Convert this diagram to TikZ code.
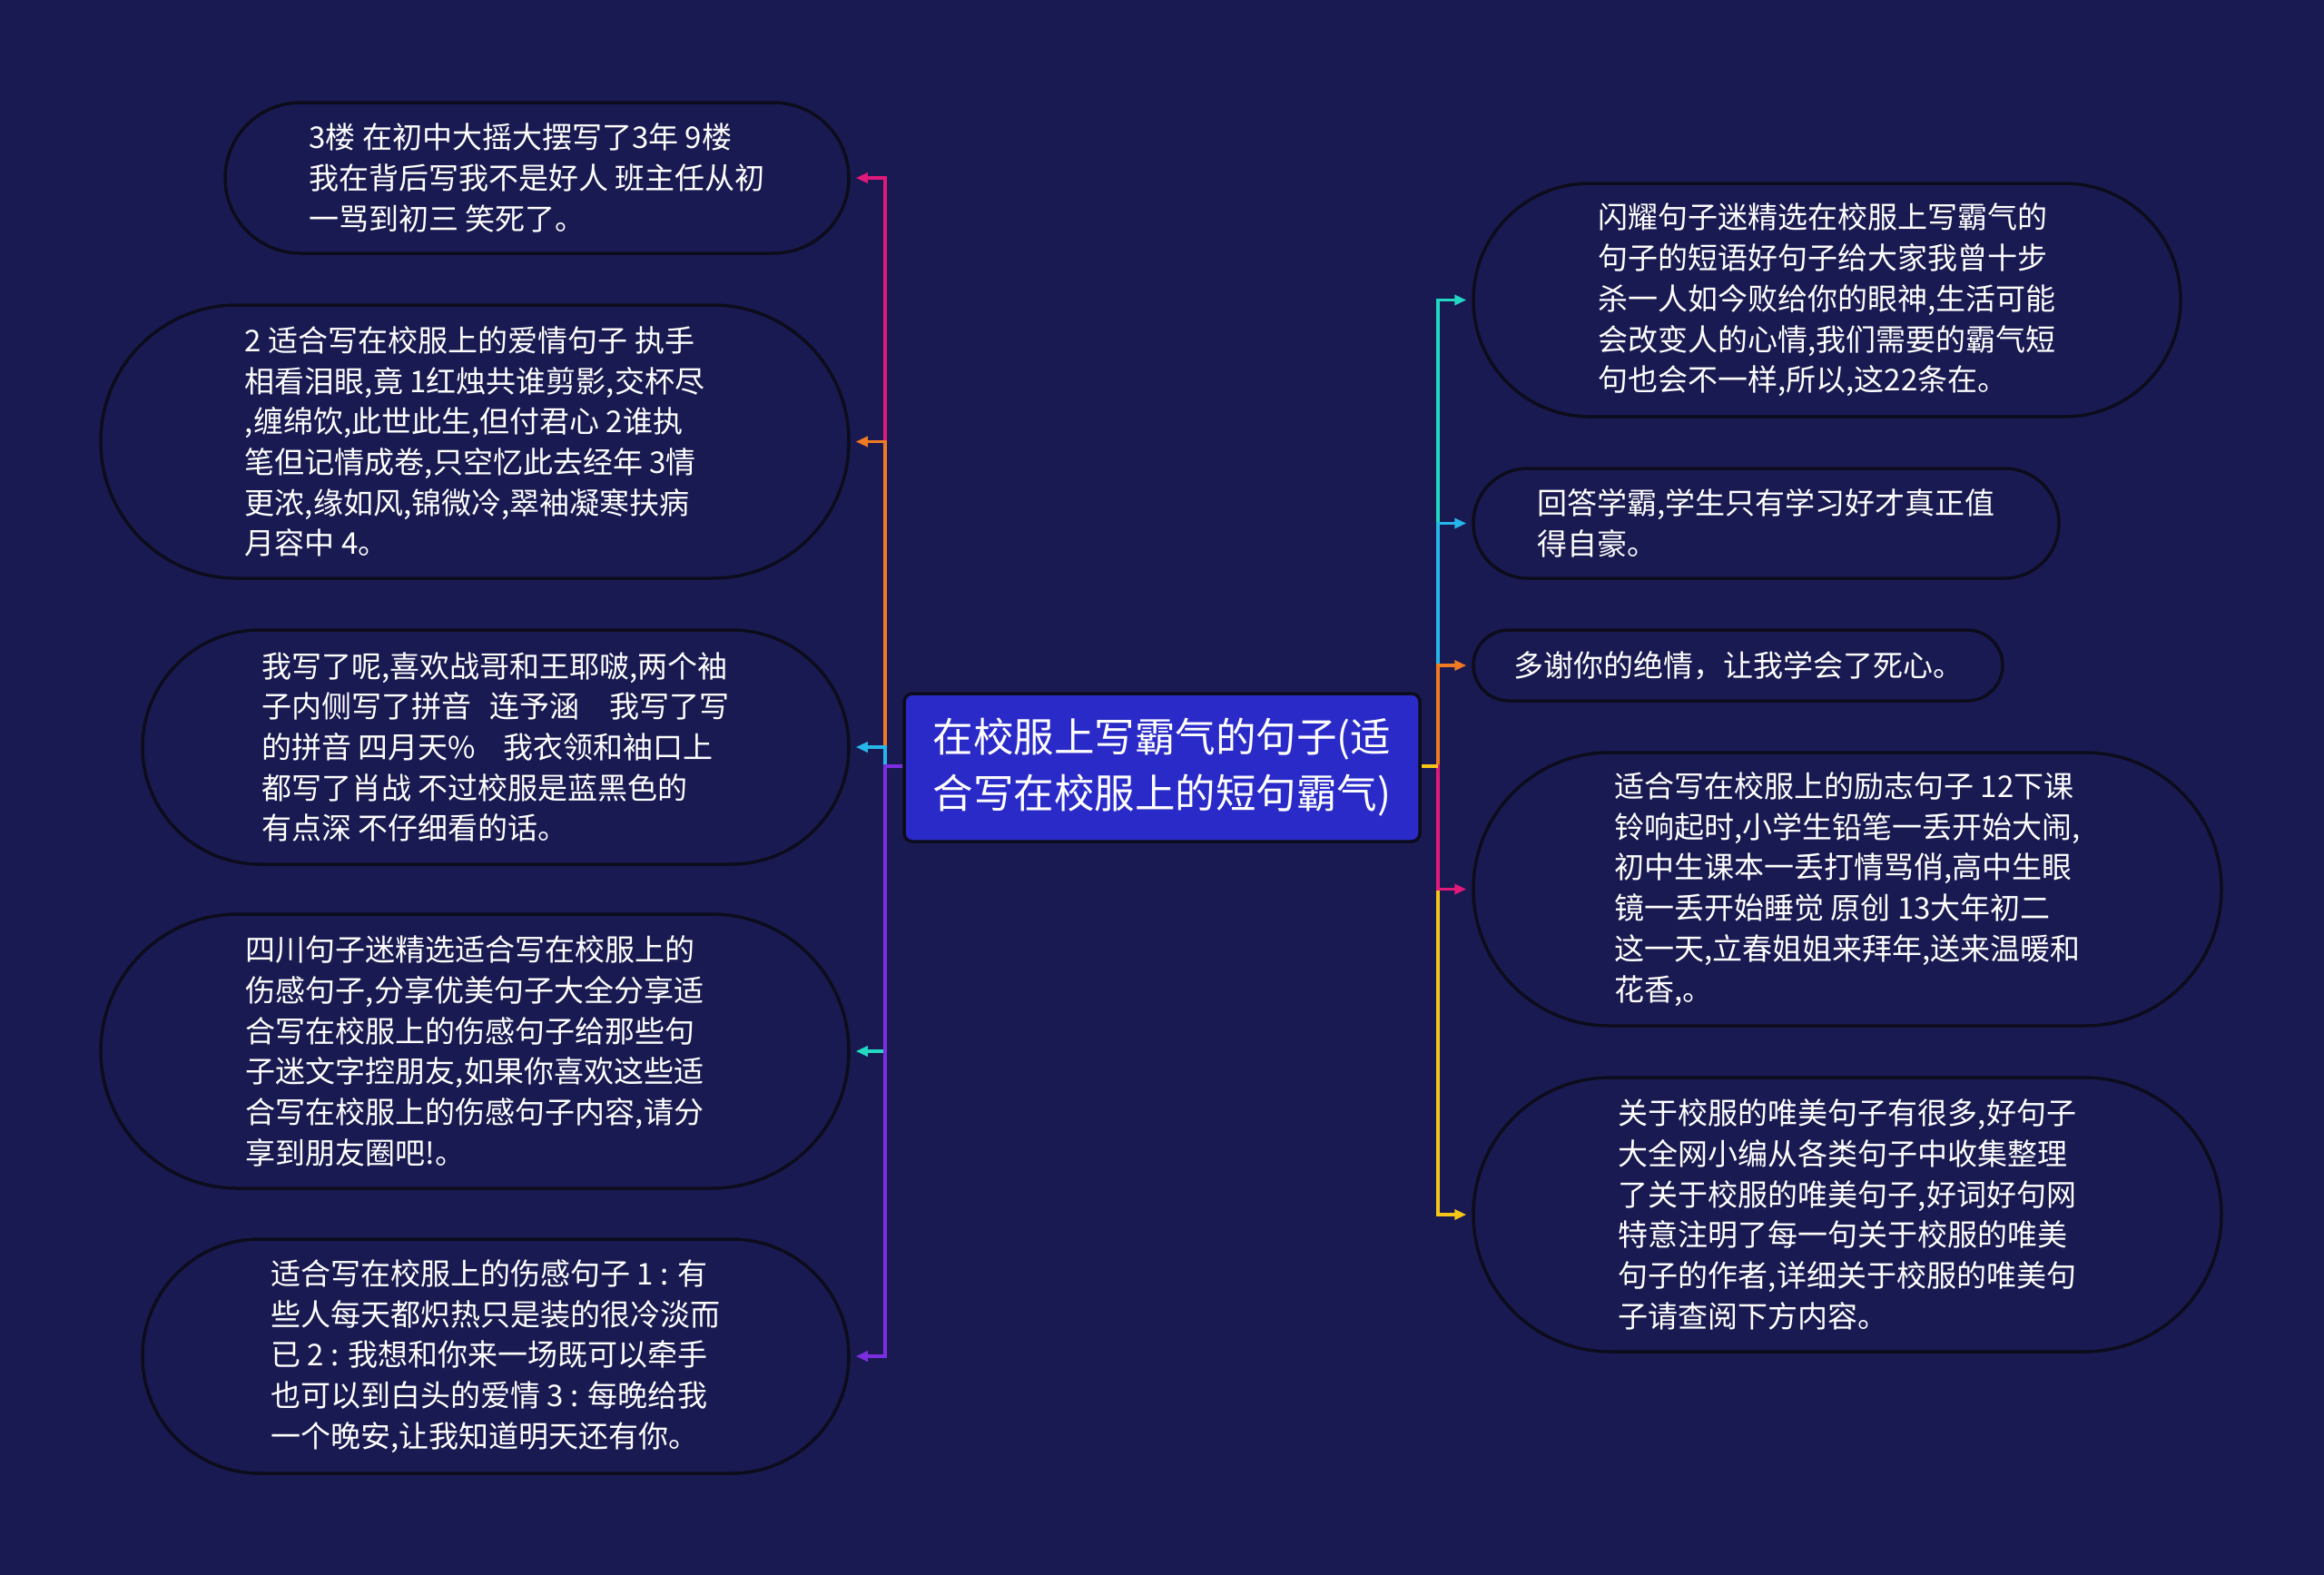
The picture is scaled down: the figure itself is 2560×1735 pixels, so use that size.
\documentclass[tikz,border=0pt]{standalone}
\usepackage{fontspec}
\setmainfont{Noto Sans CJK SC}
\usetikzlibrary{arrows.meta}
\definecolor{bg}{HTML}{1A1A52}
\definecolor{rootfill}{HTML}{2A2AC8}
\definecolor{edge}{HTML}{0C0C1C}
\definecolor{cpink}{HTML}{E0197A}
\definecolor{corange}{HTML}{F07A22}
\definecolor{ccyan}{HTML}{27B6EA}
\definecolor{cteal}{HTML}{22D8C2}
\definecolor{cpurple}{HTML}{7B2EE0}
\definecolor{cyellow}{HTML}{F5C518}
\tikzset{
  leaf/.style={draw=edge, line width=3.5pt, fill=bg, text=white, align=left,
    inner sep=0pt, font=\fontsize{33}{44.7}\selectfont},
  rootbox/.style={draw=edge, line width=3.5pt, fill=rootfill, text=white, align=left,
    rounded corners=9pt, inner sep=0pt, font=\fontsize{44.5}{62}\selectfont},
  conn/.style={line width=3.5pt, -{Triangle[length=13pt,width=11pt]}, shorten >=6pt}
}
\begin{document}
\begin{tikzpicture}[x=1pt,y=-1pt]
\useasboundingbox[fill=bg] (0,0) rectangle (2560,1735);

\node[rootbox, minimum width=568pt, minimum height=163pt] (root) at (1280,845.5)
  {在校服上写霸气的句子(适\\合写在校服上的短句霸气)};

% left
\node[leaf, minimum width=687pt, minimum height=166pt, rounded corners=83pt] (L1) at (591.5,196)
  {3楼 在初中大摇大摆写了3年 9楼\\我在背后写我不是好人 班主任从初\\一骂到初三 笑死了。};
\node[leaf, minimum width=824pt, minimum height=301pt, rounded corners=150pt] (L2) at (523,486.5)
  {2 适合写在校服上的爱情句子 执手\\相看泪眼,竟 1红烛共谁剪影,交杯尽\\,缠绵饮,此世此生,但付君心 2谁执\\笔但记情成卷,只空忆此去经年 3情\\更浓,缘如风,锦微冷,翠袖凝寒扶病\\月容中 4。};
\node[leaf, minimum width=778pt, minimum height=258pt, rounded corners=129pt] (L3) at (546,823)
  {我写了呢,喜欢战哥和王耶啵,两个袖\\子内侧写了拼音\hspace{21pt}连予涵\hspace{33pt}我写了写\\的拼音 四月天\%\hspace{31pt}我衣领和袖口上\\都写了肖战 不过校服是蓝黑色的\\有点深 不仔细看的话。};
\node[leaf, minimum width=824pt, minimum height=302pt, rounded corners=151pt] (L4) at (523,1158)
  {四川句子迷精选适合写在校服上的\\伤感句子,分享优美句子大全分享适\\合写在校服上的伤感句子给那些句\\子迷文字控朋友,如果你喜欢这些适\\合写在校服上的伤感句子内容,请分\\享到朋友圈吧!。};
\node[leaf, minimum width=778pt, minimum height=258pt, rounded corners=129pt] (L5) at (546,1494)
  {适合写在校服上的伤感句子 1 : 有\\些人每天都炽热只是装的很冷淡而\\已 2 : 我想和你来一场既可以牵手\\也可以到白头的爱情 3 : 每晚给我\\一个晚安,让我知道明天还有你。};

% right
\node[leaf, minimum width=779pt, minimum height=257pt, rounded corners=128pt] (R1) at (2012.5,330.5)
  {闪耀句子迷精选在校服上写霸气的\\句子的短语好句子给大家我曾十步\\杀一人如今败给你的眼神,生活可能\\会改变人的心情,我们需要的霸气短\\句也会不一样,所以,这22条在。};
\node[leaf, minimum width=645pt, minimum height=121pt, rounded corners=60pt] (R2) at (1945.5,576.5)
  {回答学霸,学生只有学习好才真正值\\得自豪。};
\node[leaf, minimum width=583pt, minimum height=78pt, rounded corners=39pt] (R3) at (1914.5,733)
  {多谢你的绝情，让我学会了死心。};
\node[leaf, minimum width=824pt, minimum height=301pt, rounded corners=150pt] (R4) at (2035,979.5)
  {适合写在校服上的励志句子 12下课\\铃响起时,小学生铅笔一丢开始大闹,\\初中生课本一丢打情骂俏,高中生眼\\镜一丢开始睡觉 原创 13大年初二\\这一天,立春姐姐来拜年,送来温暖和\\花香,。};
\node[leaf, minimum width=824pt, minimum height=302pt, rounded corners=151pt] (R5) at (2035,1338)
  {关于校服的唯美句子有很多,好句子\\大全网小编从各类句子中收集整理\\了关于校服的唯美句子,好词好句网\\特意注明了每一句关于校服的唯美\\句子的作者,详细关于校服的唯美句\\子请查阅下方内容。};

\coordinate (lt) at (975,844);
\coordinate (rt) at (1584,844);

% left connectors
\draw[conn, cpink] (root.west |- lt) -- (lt) |- (L1.east);
\draw[conn, corange] (root.west |- lt) -- (lt) |- (L2.east);
\draw[conn, ccyan] (root.west |- lt) -- (lt) |- (L3.east);
\draw[conn, cteal] (root.west |- lt) -- (lt) |- (L4.east);
\draw[conn, cpurple] (root.west |- lt) -- (lt) |- (L5.east);

% right connectors
\draw[conn, cteal] (root.east |- rt) -- (rt) |- (R1.west);
\draw[conn, ccyan] (root.east |- rt) -- (rt) |- (R2.west);
\draw[conn, corange] (root.east |- rt) -- (rt) |- (R3.west);
\draw[conn, cyellow] (root.east |- rt) -- (rt) |- (R5.west);
\draw[conn, cpink] (root.east |- rt) -- (rt) |- (R4.west);
\draw[line width=3.5pt, cyellow] (root.east |- rt) -- (rt);
\end{tikzpicture}
\end{document}
